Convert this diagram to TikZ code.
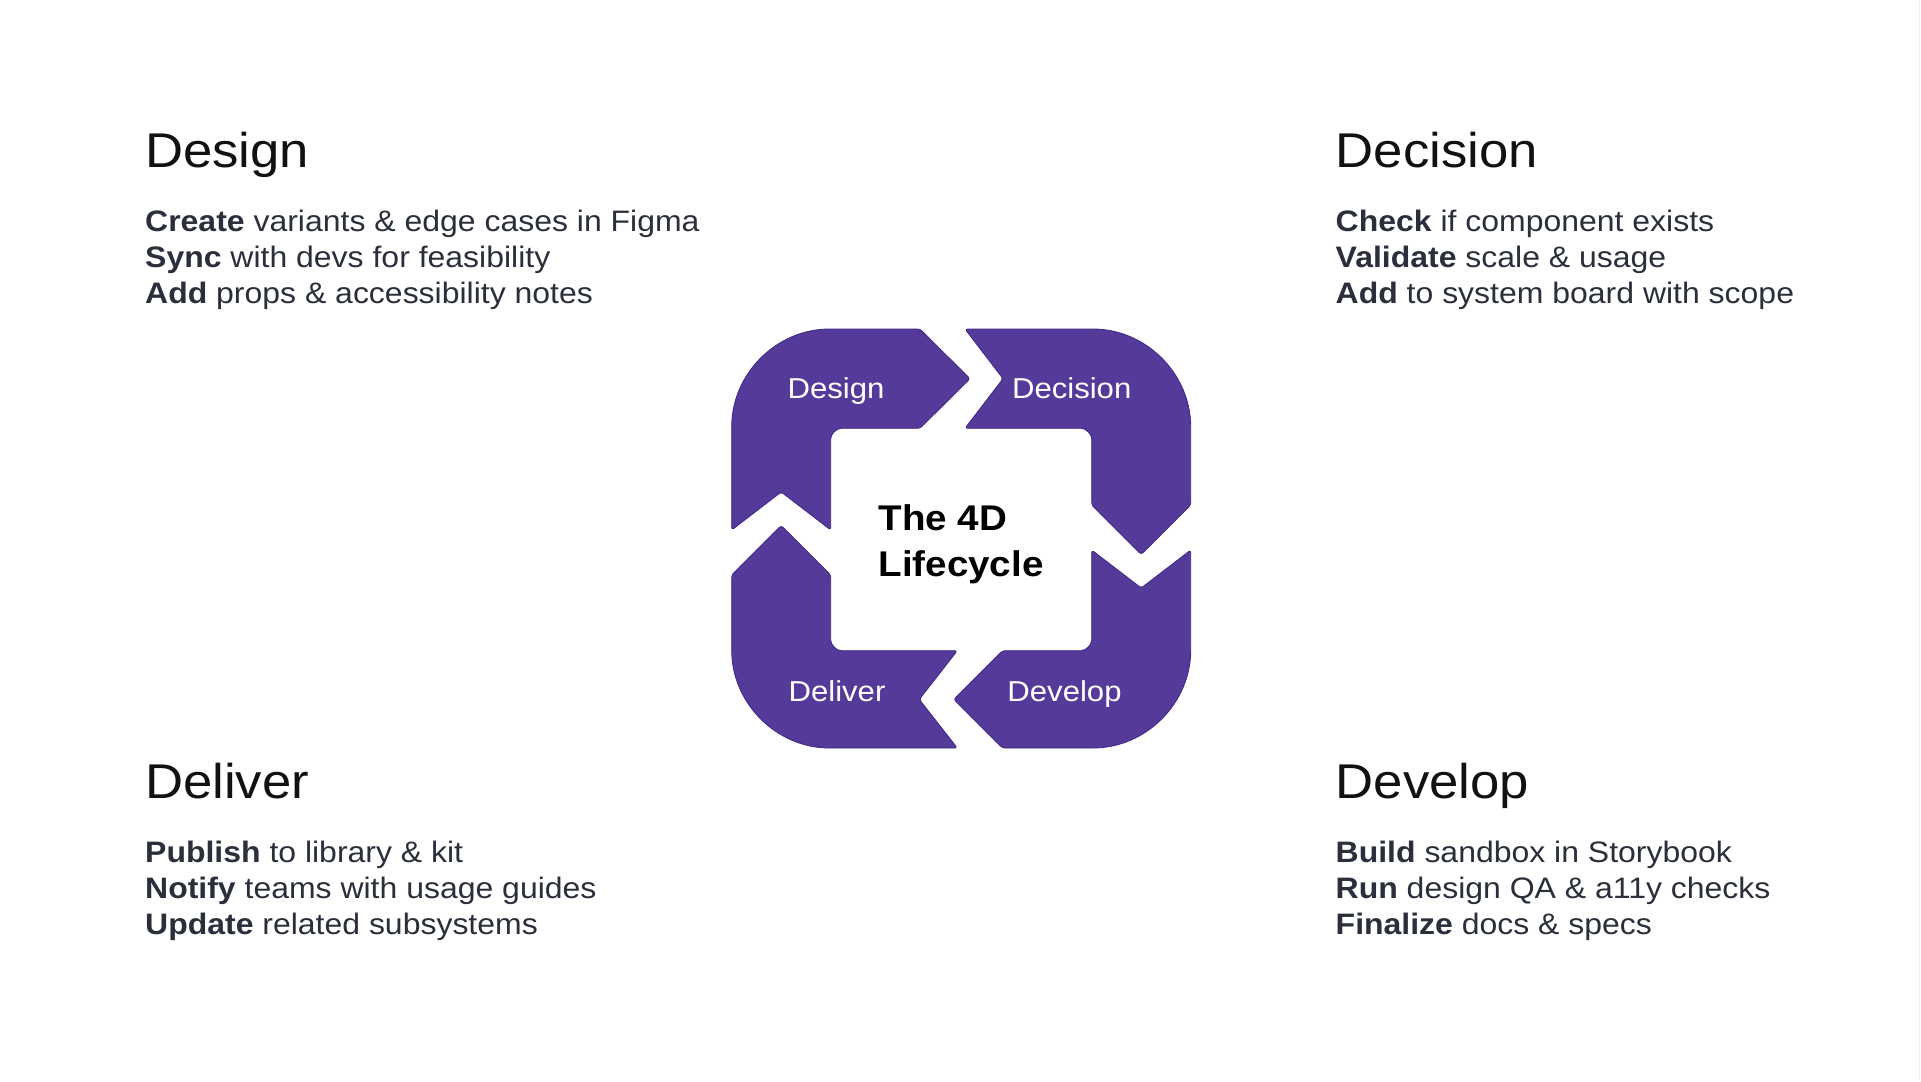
\documentclass[tikz,border=0pt]{standalone}
\usepackage{fontspec}
\setmainfont{Liberation Sans}[FakeStretch=1.08]
\definecolor{cyclepurple}{HTML}{553A99}
\definecolor{cycleedge}{HTML}{3E2886}
\definecolor{headink}{HTML}{111111}
\definecolor{bodyink}{HTML}{2A2F3B}
\definecolor{edgegray}{HTML}{EEEEEE}
\begin{document}
\begin{tikzpicture}[x=1pt,y=-1pt,
  piece/.style={fill=cyclepurple,draw=cycleedge,line width=0.8pt,rounded corners=2.5pt,line join=round},
  heading/.style={anchor=base west,inner sep=0pt,text=headink,font=\fontsize{48.8}{58}\selectfont},
  bodyline/.style={anchor=base west,inner sep=0pt,text=bodyink,font=\fontsize{29.6}{36}\selectfont},
  steplabel/.style={anchor=base,inner sep=0pt,text=white,font=\fontsize{28.8}{34}\selectfont},
  titleline/.style={anchor=base west,inner sep=0pt,text=black,font=\bfseries\fontsize{35.7}{46}\selectfont}]
\useasboundingbox (0,0) rectangle (1921,1081);
\fill[white] (0,0) rectangle (1921,1081);
\draw[edgegray,line width=1pt] (1919.5,0) -- (1919.5,1081);

% Design piece (top-left)
\path[piece] (731.7,530) -- (731.7,429)
  .. controls (731.7,373.8) and (776.5,329) .. (831.7,329)
  -- (920,329) -- (970,378.7) -- (920,428.3) -- (843.7,428.3)
  .. controls (836.5,428.3) and (830.7,434.1) .. (830.7,441.3)
  -- (830.7,530) -- (781.2,492) -- cycle;
% Decision piece (top-right)
\path[piece] (965,329) -- (1090.7,329)
  .. controls (1145.9,329) and (1190.7,373.8) .. (1190.7,429)
  -- (1190.7,505) -- (1141.2,554.5) -- (1091.7,505) -- (1091.7,441.3)
  .. controls (1091.7,434.1) and (1085.9,428.3) .. (1078.7,428.3)
  -- (965,428.3) -- (1003,378.7) -- cycle;
% Develop piece (bottom-right)
\path[piece] (1091.7,550) -- (1141.2,588) -- (1190.7,550) -- (1190.7,648)
  .. controls (1190.7,703.2) and (1145.9,748) .. (1090.7,748)
  -- (1002.5,748) -- (953.8,699.4) -- (1002.5,650.7) -- (1078.7,650.7)
  .. controls (1085.9,650.7) and (1091.7,644.5) .. (1091.7,637.7)
  -- cycle;
% Deliver piece (bottom-left)
\path[piece] (957.3,650.7) -- (919.3,699.4) -- (957.3,748) -- (831.7,748)
  .. controls (776.5,748) and (731.7,703.2) .. (731.7,648)
  -- (731.7,575) -- (781.2,525.5) -- (830.7,575) -- (830.7,637.7)
  .. controls (830.7,644.5) and (836.5,650.7) .. (843.7,650.7)
  -- cycle;

% labels on the cycle
\node[steplabel] (lDesign) at (836,398) {Design};
\node[steplabel] (lDecision) at (1071.7,398) {Decision};
\node[steplabel] (lDeliver) at (837,701.7) {Deliver};
\node[steplabel] (lDevelop) at (1064.5,701.7) {Develop};

% centre title
\node[titleline] (title1) at (878.3,530) {The 4D};
\node[titleline] (title2) at (878.3,576.5) {Lifecycle};

% Design block
\node[heading] (hDesign) at (145,167.5) {Design};
\node[bodyline] (ds1) at (145,231) {\textbf{Create} variants \& edge cases in Figma};
\node[bodyline] (ds2) at (145,267) {\textbf{Sync} with devs for feasibility};
\node[bodyline] (ds3) at (145,303) {\textbf{Add} props \& accessibility notes};

% Decision block
\node[heading] (hDecision) at (1335.5,167.5) {Decision};
\node[bodyline] (dc1) at (1335.5,231) {\textbf{Check} if component exists};
\node[bodyline] (dc2) at (1335.5,267) {\textbf{Validate} scale \& usage};
\node[bodyline] (dc3) at (1335.5,303) {\textbf{Add} to system board with scope};

% Deliver block
\node[heading] (hDeliver) at (145,798) {Deliver};
\node[bodyline] (dl1) at (145,862) {\textbf{Publish} to library \& kit};
\node[bodyline] (dl2) at (145,898) {\textbf{Notify} teams with usage guides};
\node[bodyline] (dl3) at (145,934) {\textbf{Update} related subsystems};

% Develop block
\node[heading] (hDevelop) at (1335.5,798) {Develop};
\node[bodyline] (dv1) at (1335.5,862) {\textbf{Build} sandbox in Storybook};
\node[bodyline] (dv2) at (1335.5,898) {\textbf{Run} design QA \& a11y checks};
\node[bodyline] (dv3) at (1335.5,934) {\textbf{Finalize} docs \& specs};
\end{tikzpicture}
\end{document}
